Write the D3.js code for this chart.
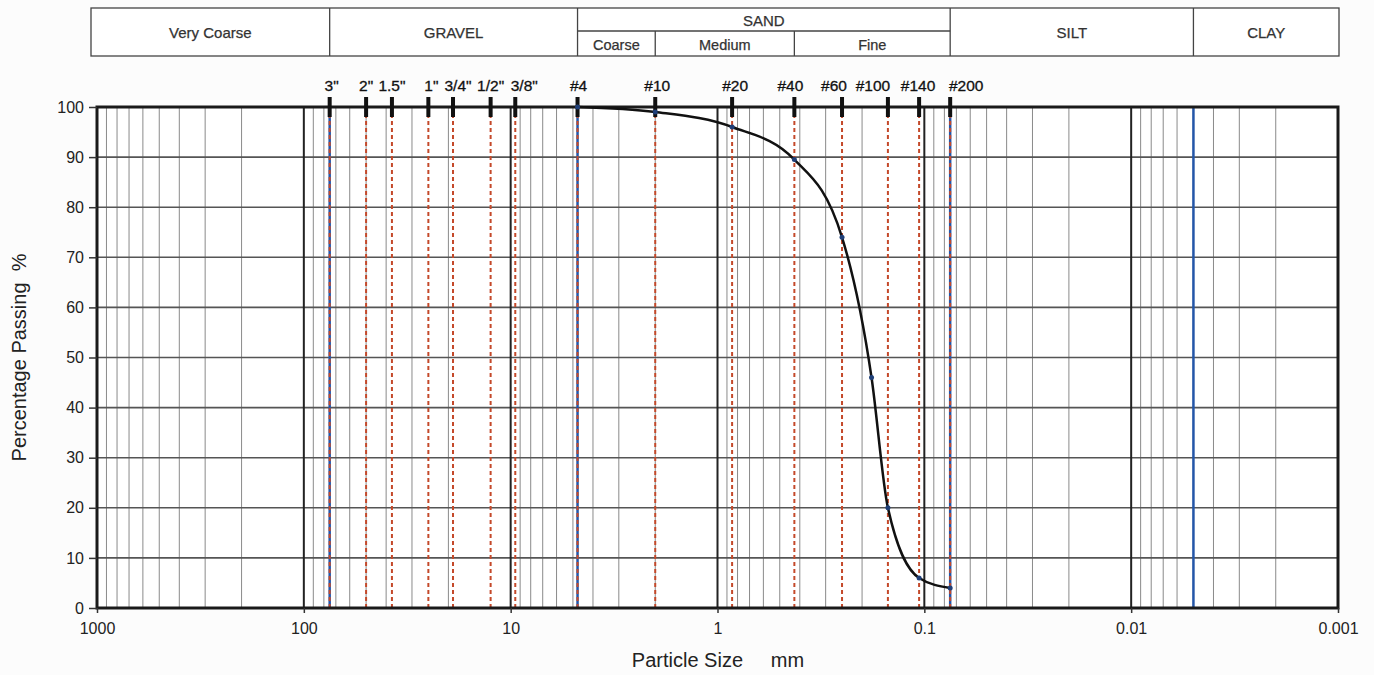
<!DOCTYPE html>
<html>
<head>
<meta charset="utf-8">
<script src="https://cdn.jsdelivr.net/npm/d3@7/dist/d3.min.js"></script>
<style>
  body { margin: 0; background: #fcfcfc; }
  svg { display: block; font-family: Arial, "Liberation Sans", sans-serif; }
  .axis text { font-size: 16px; fill: #222; }
  .axis path { display: none; }
  .axis line { stroke: #333; stroke-width: 1.5px; }
</style>
</head>
<body>
<svg width="1374" height="675"></svg>
<script>
// sieve openings (mm) and their labels
const sieveLabels = ['3"', '2"', '1.5"', '1"', '3/4"', '1/2"', '3/8"', "#4", "#10", "#20", "#40", "#60", "#100", "#140", "#200"];
const sieveSizes = [75, 50, 37.5, 25, 19, 12.5, 9.5, 4.75, 2.0, 0.85, 0.425, 0.25, 0.15, 0.106, 0.075];

// measured grading
const testSizes = [4.75, 2.0, 0.85, 0.425, 0.25, 0.18, 0.15, 0.106, 0.075];
const testPassing = [100, 99, 96, 89.5, 74, 46, 20, 6, 4];

// soil class boundaries (blue lines) and header bands
const classBounds = [75, 4.75, 0.075, 0.005];
const headerMain = ["Very Coarse", "GRAVEL", "SAND", "SILT", "CLAY"];
const headerMainEdges = [1000, 75, 4.75, 0.075, 0.005, 0.001];
const sandSub = ["Coarse", "Medium", "Fine"];
const sandSubEdges = [4.75, 2.0, 0.425, 0.075];

const yTicks = [0, 10, 20, 30, 40, 50, 60, 70, 80, 90, 100];
const xDecades = [1000, 100, 10, 1, 0.1, 0.01, 0.001];

// label nudges so crowded sieve names don't collide (px)
const labelNudge = [2, 0, 0, 3, 5, 0, 9, 1, 2, 3, -4, -8, -15, -1, 16];

const svg = d3.select("svg");
const plot = { left: 97, right: 1338, top: 107, bottom: 608 };

const x = d3.scaleLog().domain([1000, 0.001]).range([plot.left, plot.right]);
const y = d3.scaleLinear().domain([0, 100]).range([plot.bottom, plot.top]);

// plot background
svg.append("rect")
  .attr("x", plot.left).attr("y", plot.top)
  .attr("width", plot.right - plot.left).attr("height", plot.bottom - plot.top)
  .attr("fill", "#fff");

// minor vertical grid
const minors = [];
xDecades.slice(1).forEach((d) => {
  for (let k = 2; k <= 9; k++) minors.push(d * k);
});
svg.append("g")
  .selectAll("line")
  .data(minors)
  .join("line")
  .attr("x1", (d) => x(d)).attr("x2", (d) => x(d))
  .attr("y1", plot.top).attr("y2", plot.bottom)
  .attr("stroke", "#8a8a8a")
  .attr("stroke-width", 1);

// horizontal grid
svg.append("g")
  .selectAll("line")
  .data(yTicks)
  .join("line")
  .attr("x1", plot.left).attr("x2", plot.right)
  .attr("y1", (d) => y(d)).attr("y2", (d) => y(d))
  .attr("stroke", "#555")
  .attr("stroke-width", 1.6);

// decade lines
svg.append("g")
  .selectAll("line")
  .data(xDecades)
  .join("line")
  .attr("x1", (d) => x(d)).attr("x2", (d) => x(d))
  .attr("y1", plot.top).attr("y2", plot.bottom)
  .attr("stroke", "#222")
  .attr("stroke-width", 2);

// class boundaries
svg.append("g")
  .selectAll("line")
  .data(classBounds)
  .join("line")
  .attr("x1", (d) => x(d)).attr("x2", (d) => x(d))
  .attr("y1", plot.top).attr("y2", plot.bottom)
  .attr("stroke", "#2456a8")
  .attr("stroke-width", 2.5);

// sieve lines
svg.append("g")
  .selectAll("line")
  .data(sieveSizes)
  .join("line")
  .attr("x1", (d) => x(d)).attr("x2", (d) => x(d))
  .attr("y1", plot.top).attr("y2", plot.bottom)
  .attr("stroke", "#c4492a")
  .attr("stroke-width", 2)
  .attr("stroke-dasharray", "4,3");

// frame
svg.append("rect")
  .attr("x", plot.left).attr("y", plot.top)
  .attr("width", plot.right - plot.left).attr("height", plot.bottom - plot.top)
  .attr("fill", "none")
  .attr("stroke", "#1a1a1a")
  .attr("stroke-width", 3);

// sieve tick marks and labels
svg.append("g")
  .selectAll("rect")
  .data(sieveSizes)
  .join("rect")
  .attr("x", (d) => x(d) - 2).attr("y", 97)
  .attr("width", 4).attr("height", 20)
  .attr("fill", "#111");

svg.append("g")
  .selectAll("text")
  .data(sieveLabels)
  .join("text")
  .attr("x", (d, i) => x(sieveSizes[i]) + labelNudge[i])
  .attr("y", 91)
  .attr("text-anchor", "middle")
  .attr("font-size", 15.5)
  .attr("fill", "#111")
  .attr("stroke", "#111")
  .attr("stroke-width", 0.3)
  .text((d) => d);

// grading curve
const pts = testSizes.map((s, i) => [x(s), y(testPassing[i])]);
svg.append("path")
  .datum(pts)
  .attr("d", d3.line().curve(d3.curveMonotoneX))
  .attr("fill", "none")
  .attr("stroke", "#111")
  .attr("stroke-width", 2.5);

svg.append("g")
  .selectAll("circle")
  .data(pts)
  .join("circle")
  .attr("cx", (d) => d[0]).attr("cy", (d) => d[1])
  .attr("r", 2.5)
  .attr("fill", "#1f3f78");

// axes
svg.append("g")
  .attr("class", "axis")
  .attr("transform", `translate(${plot.left},0)`)
  .call(d3.axisLeft(y).tickValues(yTicks).tickSize(8).tickPadding(5));

svg.append("g")
  .attr("class", "axis")
  .attr("transform", `translate(0,${plot.bottom})`)
  .call(
    d3.axisBottom(x)
      .tickValues(xDecades)
      .tickSize(5)
      .tickPadding(10)
      .tickFormat((d) => String(d))
  );

svg.append("text")
  .attr("transform", `translate(26,${(plot.top + plot.bottom) / 2}) rotate(-90)`)
  .attr("text-anchor", "middle")
  .attr("font-size", 20)
  .attr("fill", "#222")
  .style("white-space", "pre")
  .text("Percentage Passing  %");

svg.append("text")
  .attr("x", 718).attr("y", 667)
  .attr("text-anchor", "middle")
  .attr("font-size", 20)
  .attr("fill", "#222")
  .style("white-space", "pre")
  .text("Particle Size     mm");

// header table
const hTop = 8, hMid = 31, hBot = 56;
const hx = (d) => (d === 1000 ? plot.left - 6 : d === 0.001 ? plot.right + 1 : x(d));
const header = svg.append("g");
header.append("rect")
  .attr("x", hx(1000)).attr("y", hTop)
  .attr("width", hx(0.001) - hx(1000)).attr("height", hBot - hTop)
  .attr("fill", "#fff")
  .attr("stroke", "#444")
  .attr("stroke-width", 1.3);

header.selectAll("line.main")
  .data(headerMainEdges.slice(1, -1))
  .join("line")
  .attr("class", "main")
  .attr("x1", hx).attr("x2", hx)
  .attr("y1", hTop).attr("y2", hBot)
  .attr("stroke", "#444")
  .attr("stroke-width", 1.3);

header.append("line")
  .attr("x1", hx(4.75)).attr("x2", hx(0.075))
  .attr("y1", hMid).attr("y2", hMid)
  .attr("stroke", "#444")
  .attr("stroke-width", 1.3);

header.selectAll("line.sub")
  .data(sandSubEdges.slice(1, -1))
  .join("line")
  .attr("class", "sub")
  .attr("x1", hx).attr("x2", hx)
  .attr("y1", hMid).attr("y2", hBot)
  .attr("stroke", "#444")
  .attr("stroke-width", 1.3);

header.selectAll("text.main")
  .data(headerMain)
  .join("text")
  .attr("class", "main")
  .attr("x", (d, i) => (hx(headerMainEdges[i]) + hx(headerMainEdges[i + 1])) / 2)
  .attr("y", (d) => (d === "SAND" ? 26 : 38))
  .attr("text-anchor", "middle")
  .attr("font-size", 15)
  .attr("fill", "#333")
  .attr("stroke", "#333")
  .attr("stroke-width", 0.25)
  .text((d) => d);

header.selectAll("text.sub")
  .data(sandSub)
  .join("text")
  .attr("class", "sub")
  .attr("x", (d, i) => (hx(sandSubEdges[i]) + hx(sandSubEdges[i + 1])) / 2)
  .attr("y", 50)
  .attr("text-anchor", "middle")
  .attr("font-size", 14.5)
  .attr("fill", "#333")
  .attr("stroke", "#333")
  .attr("stroke-width", 0.25)
  .text((d) => d);
</script>
</body>
</html>
